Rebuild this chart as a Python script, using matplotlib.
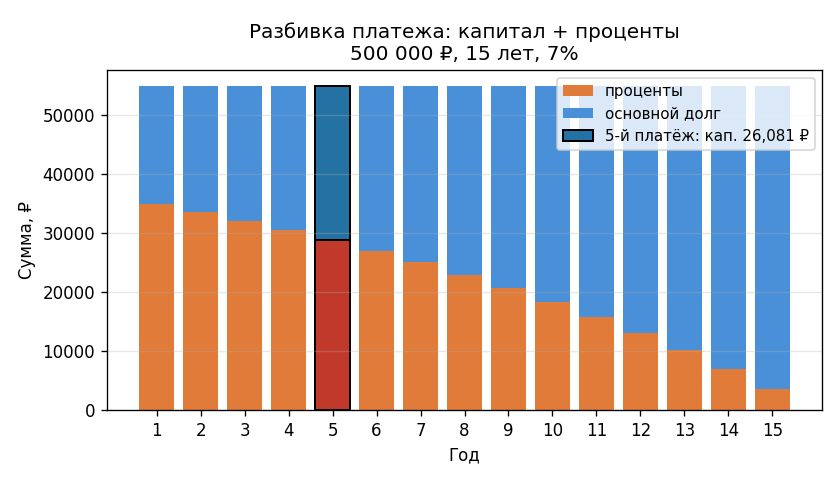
import matplotlib.pyplot as plt
import numpy as np

# Annual payment split for 500 000 ₽ at 7% over 15 years
years = list(range(1, 16))
interest = [35000, 33607, 32117, 30522, 28816, 26990, 25037, 22947,
            20710, 18317, 15757, 13017, 10085, 6948, 3592]
principal = [19897, 21290, 22780, 24375, 26081, 27907, 29860, 31950,
             34187, 36580, 39140, 41880, 44812, 47949, 51305]
highlight_year = 5

fig, ax = plt.subplots(figsize=(7, 4), dpi=120)

x = np.array(years)
ax.bar(x, interest, color='#e07b39', label='проценты')
ax.bar(x, principal, bottom=interest, color='#4a90d9', label='основной долг')

i = highlight_year - 1
ax.bar(x[i], interest[i], color='#c0392b', edgecolor='black', linewidth=1.2)
ax.bar(x[i], principal[i], bottom=interest[i], color='#2471a3',
       edgecolor='black', linewidth=1.2,
       label=f'{highlight_year}-й платёж: кап. {principal[i]:,} ₽')

ax.set_xticks(years)
ax.set_xlabel('Год')
ax.set_ylabel('Сумма, ₽')
ax.set_title('Разбивка платежа: капитал + проценты\n500 000 ₽, 15 лет, 7%')
ax.grid(axis='y', alpha=0.3)
ax.legend(loc='upper right', fontsize=9)

fig.subplots_adjust(left=0.127, right=0.979, top=0.854, bottom=0.146)
plt.savefig('out.png')
